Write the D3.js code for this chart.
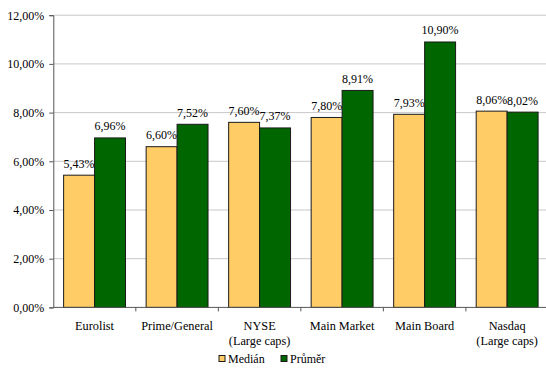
<!DOCTYPE html>
<html><head><meta charset="utf-8">
<script src="https://cdn.jsdelivr.net/npm/d3@7"></script>
<style>body{margin:0;background:#fff}svg{display:block}svg text{font-family:"Liberation Serif","Times New Roman",serif !important;fill:#000}</style>
</head><body><svg id="c" width="546" height="370"></svg>
<script>
const categories = [["Eurolist"],["Prime/General"],["NYSE","(Large caps)"],["Main Market"],["Main Board"],["Nasdaq","(Large caps)"]];
const seriesNames = ["Medián","Průměr"];
const median = [5.43,6.60,7.60,7.80,7.93,8.06];
const mean = [6.96,7.52,7.37,8.91,10.90,8.02];
const yTicks = [0,2,4,6,8,10,12];
const colors = ["#FFCC66","#006600"];
const FF = '"Liberation Serif","Times New Roman",serif';

const svg = d3.select("#c");
const x0 = 53.3, x1 = 548.4, yTop = 15.2, yBot = 307.4;
const x = d3.scaleBand().domain(categories.map((d,i)=>i)).range([x0,x1]).paddingInner(0.25).paddingOuter(0.125);
const xb = d3.scaleBand().domain(categories.map((d,i)=>i)).range([x0,x1]);
const xs = d3.scaleBand().domain([0,1]).range([0,x.bandwidth()]);
const y = d3.scaleLinear().domain([0,12]).range([yBot,yTop]);
const fmt = v => v.toFixed(2).replace(".",",")+"%";

// gridlines
svg.append("g").selectAll("line").data(yTicks.filter(t=>t>0)).join("line")
  .attr("x1",x0).attr("x2",546).attr("y1",d=>y(d)).attr("y2",d=>y(d))
  .attr("stroke","#c8c8c8").attr("stroke-width",1);

// bars
const series = [median, mean];
series.forEach((vals,s)=>{
  svg.append("g").selectAll("rect").data(vals).join("rect")
    .attr("x",(d,i)=>x(i)+xs(s)).attr("width",xs.bandwidth())
    .attr("y",d=>y(d)).attr("height",d=>yBot-y(d))
    .attr("fill",colors[s]).attr("stroke","#1a1a1a").attr("stroke-width",1);
  svg.append("g").selectAll("text").data(vals).join("text")
    .attr("x",(d,i)=>x(i)+xs(s)+xs.bandwidth()/2).attr("y",d=>y(d)-7.5)
    .attr("text-anchor","middle").attr("font-size",12).style("font-family",FF).text(fmt);
});

// y axis
const yAxis = d3.axisLeft(y).tickValues(yTicks).tickSize(4).tickPadding(5).tickFormat(fmt);
const gy = svg.append("g").attr("transform",`translate(${x0},0)`).call(yAxis).attr("font-family",FF);
gy.select(".domain").attr("stroke","#555");
gy.selectAll(".tick line").attr("stroke","#555");
gy.selectAll(".tick text").attr("font-size",12).style("font-family",FF).attr("fill","#000");

// x axis
const gx = svg.append("g").attr("transform",`translate(0,${yBot})`);
gx.append("line").attr("x1",x0).attr("x2",546).attr("stroke","#555");
gx.selectAll("line.t").data(d3.range(1,6)).join("line").attr("class","t")
  .attr("x1",i=>xb(i)).attr("x2",i=>xb(i)).attr("y1",0).attr("y2",4).attr("stroke","#555");
gx.selectAll("text").data(categories).join("text")
  .attr("text-anchor","middle").attr("font-size",12.3).style("font-family",FF)
  .attr("transform",(d,i)=>`translate(${xb(i)+xb.bandwidth()/2},0)`)
  .selectAll("tspan").data(d=>d).join("tspan")
  .attr("x",0).attr("y",(d,j)=>23+j*14.5).text(d=>d);

// legend
const leg = svg.append("g");
const lx = [219, 281];
seriesNames.forEach((n,i)=>{
  leg.append("rect").attr("x",lx[i]).attr("y",355.5).attr("width",6).attr("height",6)
    .attr("fill",colors[i]).attr("stroke","#1a1a1a").attr("stroke-width",1);
  leg.append("text").attr("x",lx[i]+9).attr("y",363).attr("font-size",12).style("font-family",FF).text(n);
});
</script></body></html>
